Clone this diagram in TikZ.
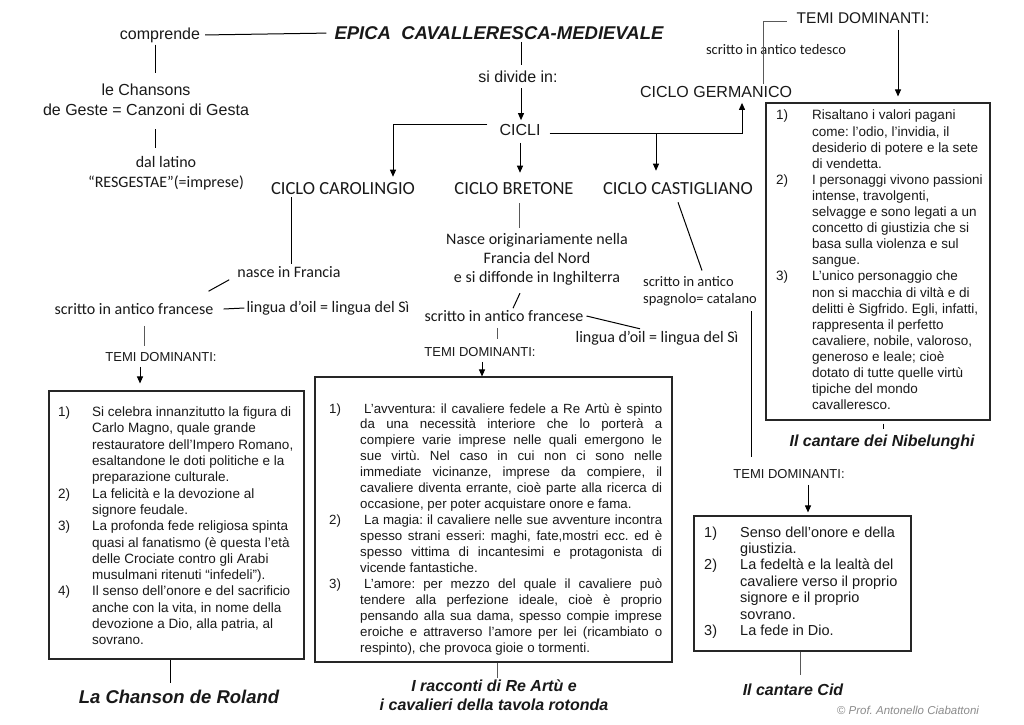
\documentclass[tikz,border=0pt]{standalone}
\usepackage{fontspec}
\setmainfont{Liberation Sans}
\newfontfamily\calib{Carlito}
\usetikzlibrary{arrows.meta}
\begin{document}
\begin{tikzpicture}[x=1pt,y=-1pt,
  ln/.style={line width=1pt, draw=black},
  lng/.style={line width=0.9pt, draw=black!65},
  arr/.style={ln, -{Triangle[length=7pt,width=6pt]}},
  lbl/.style={inner sep=2pt, align=center, text=black!90},
  ar16/.style={lbl, font=\fontsize{16}{20}\selectfont},
  ar155/.style={lbl, font=\fontsize{15.5}{19}\selectfont},
  ar13/.style={lbl, font=\fontsize{13}{16}\selectfont},
  ca16/.style={lbl, font=\calib\fontsize{16}{20}\selectfont},
  ca185/.style={lbl, font=\calib\fontsize{18.5}{22}\selectfont},
  ca145/.style={lbl, font=\calib\fontsize{14.5}{17}\selectfont},
  bi16/.style={lbl, font=\bfseries\itshape\fontsize{16}{19}\selectfont},
  bi185/.style={lbl, font=\bfseries\itshape\fontsize{18.5}{22}\selectfont},
  tit/.style={lbl, font=\bfseries\itshape\fontsize{18.5}{22}\selectfont},
  cpy/.style={lbl, text=black!45, font=\itshape\fontsize{11.5}{14}\selectfont},
  box/.style={draw=black!85, line width=1.1pt, inner sep=0, fill=none},
  boxtext/.style={anchor=north west, inner sep=0, text=black!90}
]
\frenchspacing
\fill[white] (0,0) rectangle (1024,724);
\useasboundingbox (0,0) rectangle (1024,724);

% ---------- labels ----------
\node[tit] (title) at (499,33) {EPICA\ \ CAVALLERESCA-MEDIEVALE};
\node[ar16] (comp) at (160,35) {comprende};
\node[ar16] (chans) at (146,100) {le Chansons\\de Geste = Canzoni di Gesta};
\node[ca16] (lat) at (166,173) {dal latino\\“RESGESTAE”(=imprese)};
\node[ar16] (sidiv) at (518,77) {si divide in:};
\node[ar16] (cicli) at (520,130) {CICLI};
\node[ca185] (carol) at (343,189) {CICLO CAROLINGIO};
\node[ca185] (bret) at (514,189) {CICLO BRETONE};
\node[ca185] (cast) at (678,189) {CICLO CASTIGLIANO};
\node[ar16] (germ) at (716,92) {CICLO GERMANICO};
\node[ca145] (ted) at (776,50) {scritto in antico tedesco};
\node[ar155] (temiG) at (863,18) {TEMI DOMINANTI:};
\node[bi16] (nib) at (882,442) {Il cantare dei Nibelunghi};
\node[ca16] (nfr) at (289,272) {nasce in Francia};
\node[ca16] (scrC) at (134,309) {scritto in antico francese};
\node[ca16] (lingC) at (328,308) {lingua d’oil = lingua del Sì};
\node[ar13] (temiC) at (161,357) {TEMI DOMINANTI:};
\node[bi185] (rol) at (179,697) {La Chanson de Roland};
\node[lbl, font=\calib\fontsize{16}{19}\selectfont] (nasB) at (537,259) {Nasce originariamente nella\\Francia del Nord\\e si diffonde in Inghilterra};
\node[ca16] (scrB) at (504,316) {scritto in antico francese};
\node[ca16] (lingB) at (657,338) {lingua d’oil = lingua del Sì};
\node[ar13] (temiB) at (480,352) {TEMI DOMINANTI:};
\node[bi16] (artu) at (494,695.5) {I racconti di Re Artù e\\i cavalieri della tavola rotonda};
\node[ca145, align=left] (scrS) at (700,291.5) {scritto in antico\\spagnolo= catalano};
\node[ar13] (temiS) at (789,474) {TEMI DOMINANTI:};
\node[bi16] (cid) at (793,690) {Il cantare Cid};
\node[cpy] (copy) at (908,710) {© Prof. Antonello Ciabattoni};

% ---------- boxes ----------
\node[box, minimum width=224pt, minimum height=317pt] (boxG) at (878,261.5) {};
\node[box, minimum width=255pt, minimum height=268pt] (boxC) at (176.5,525) {};
\node[box, minimum width=357pt, minimum height=285pt] (boxB) at (493.5,519.5) {};
\node[box, minimum width=217pt, minimum height=135pt] (boxS) at (802.5,583.5) {};

\node[boxtext, font=\frenchspacing\fontsize{13.5}{16.3}\selectfont] (tC) at (58,405) {%
\begin{tabular}{@{}p{34pt}@{}l@{}}
1) & Si celebra innanzitutto la figura di\\
   & Carlo Magno, quale grande\\
   & restauratore dell’Impero Romano,\\
   & esaltandone le doti politiche e la\\
   & preparazione culturale.\\
2) & La felicità e la devozione al\\
   & signore feudale.\\
3) & La profonda fede religiosa spinta\\
   & quasi al fanatismo (è questa l’età\\
   & delle Crociate contro gli Arabi\\
   & musulmani ritenuti “infedeli”).\\
4) & Il senso dell’onore e del sacrificio\\
   & anche con la vita, in nome della\\
   & devozione a Dio, alla patria, al\\
   & sovrano.
\end{tabular}};

\node[boxtext, font=\frenchspacing\fontsize{13.3}{15.93}\selectfont] (tB) at (329,401.7) {%
\begin{tabular}{@{}p{31pt}@{}l@{}}
1) & \hspace*{4pt}\makebox[298pt][s]{L’avventura: il cavaliere fedele a Re Artù è spinto}\\
   & \makebox[302pt][s]{da una necessità interiore che lo porterà a}\\
   & \makebox[302pt][s]{compiere varie imprese nelle quali emergono le}\\
   & \makebox[302pt][s]{sue virtù. Nel caso in cui non ci sono nelle}\\
   & \makebox[302pt][s]{immediate vicinanze, imprese da compiere, il}\\
   & \makebox[302pt][s]{cavaliere diventa errante, cioè parte alla ricerca di}\\
   & occasione, per poter acquistare onore e fama.\\
2) & \hspace*{4pt}\makebox[298pt][s]{La magia: il cavaliere nelle sue avventure incontra}\\
   & \makebox[302pt][s]{spesso strani esseri: maghi, fate,mostri ecc. ed è}\\
   & \makebox[302pt][s]{spesso vittima di incantesimi e protagonista di}\\
   & vicende fantastiche.\\
3) & \hspace*{4pt}\makebox[298pt][s]{L’amore: per mezzo del quale il cavaliere può}\\
   & \makebox[302pt][s]{tendere alla perfezione ideale, cioè è proprio}\\
   & \makebox[302pt][s]{pensando alla sua dama, spesso compie imprese}\\
   & \makebox[302pt][s]{eroiche e attraverso l’amore per lei (ricambiato o}\\
   & respinto), che provoca gioie o tormenti.
\end{tabular}};

\node[boxtext, font=\frenchspacing\fontsize{13.5}{16.1}\selectfont] (tG) at (776,108.5) {%
\begin{tabular}{@{}p{36pt}@{}l@{}}
1) & Risaltano i valori pagani\\
   & come: l’odio, l’invidia, il\\
   & desiderio di potere e la sete\\
   & di vendetta.\\
2) & I personaggi vivono passioni\\
   & intense, travolgenti,\\
   & selvagge e sono legati a un\\
   & concetto di giustizia che si\\
   & basa sulla violenza e sul\\
   & sangue.\\
3) & L’unico personaggio che\\
   & non si macchia di viltà e di\\
   & delitti è Sigfrido. Egli, infatti,\\
   & rappresenta il perfetto\\
   & cavaliere, nobile, valoroso,\\
   & generoso e leale; cioè\\
   & dotato di tutte quelle virtù\\
   & tipiche del mondo\\
   & cavalleresco.
\end{tabular}};

\node[boxtext, font=\frenchspacing\fontsize{14.5}{16.4}\selectfont] (tS) at (704,525.5) {%
\begin{tabular}{@{}p{36pt}@{}l@{}}
1) & Senso dell’onore e della\\
   & giustizia.\\
2) & La fedeltà e la lealtà del\\
   & cavaliere verso il proprio\\
   & signore e il proprio\\
   & sovrano.\\
3) & La fede in Dio.
\end{tabular}};

% ---------- connectors ----------
\draw[ln, shorten <=3pt, shorten >=6pt] (comp.east) -- (title.west);
\coordinate (a1) at ([xshift=-5pt]comp.south);
\draw[ln, shorten >=9pt] (a1) -- (a1 |- chans.north);
\coordinate (a2) at (a1 |- chans.south);
\draw[ln, shorten <=11pt, shorten >=6pt] (a2) -- (a2 |- lat.north);

\coordinate (a3) at ([xshift=22pt]title.south);
\draw[ln, shorten >=4pt] (a3) -- (a3 |- sidiv.north);
\coordinate (a4) at ([xshift=3pt]sidiv.south);
\draw[arr, shorten <=3pt, shorten >=2pt] (a4) -- (a4 |- cicli.north);

\coordinate (jl) at ([xshift=-10pt,yshift=6pt]cicli.west);
\coordinate (carin) at ([xshift=50pt]carol.north);
\draw[arr, shorten >=4pt] (jl) -| (carin);
\draw[arr, shorten <=5pt, shorten >=8pt] (cicli.south) -- (cicli.south |- bret.north);
\coordinate (jr) at ([xshift=7pt,yshift=-3pt]cicli.east);
\coordinate (germin) at ([xshift=26pt]germ.south);
\draw[arr, shorten >=3pt] (jr) -| (germin);
\coordinate (castin) at ([xshift=-22pt]cast.north);
\draw[arr, shorten >=10pt] (castin |- jr) -- (castin);

\coordinate (gt) at ([xshift=47pt]germ.north);
\coordinate (tg) at ([yshift=-3pt]temiG.west);
\draw[lng, shorten >=8pt] (gt) |- (tg);
\coordinate (tgs) at ([xshift=35pt]temiG.south);
\draw[arr, shorten <=4pt, shorten >=6pt] (tgs) -- (tgs |- boxG.north);
\coordinate (bgs) at ([xshift=5pt]boxG.south);
\draw[ln, shorten <=3pt, shorten >=3pt] (bgs) -- (bgs |- nib.north);

\coordinate (cn) at ([xshift=-52pt]carol.south);
\draw[ln] (cn) -- (cn |- nfr.north);
\draw[ln] ([xshift=-6pt]nfr.south west) -- ([xshift=-7pt,yshift=10pt]scrC.north east);
\draw[ln] ([xshift=8pt]scrC.east) -- (lingC.west);
\coordinate (st) at ([xshift=10pt]scrC.south);
\draw[lng, shorten <=9pt, shorten >=4pt] (st) -- (st |- temiC.north);
\coordinate (tcs) at ([xshift=-21pt]temiC.south);
\draw[arr, shorten <=3pt, shorten >=7pt] (tcs) -- (tcs |- boxC.north);
\coordinate (bcs) at ([xshift=-6.5pt]boxC.south);
\draw[ln, shorten >=5pt] (bcs) -- (bcs |- rol.north);

\coordinate (bn) at ([xshift=5pt]bret.south);
\draw[lng, shorten <=6pt, shorten >=3pt] (bn) -- (bn |- nasB.north);
\draw[ln] ([xshift=-17pt,yshift=-6pt]nasB.south) -- ([xshift=9pt]scrB.north);
\draw[ln] ([xshift=1pt]scrB.east) -- ([xshift=-17pt]lingB.north);
\coordinate (sbt) at ([xshift=-7pt]scrB.south);
\draw[lng, shorten <=4pt, shorten >=6pt] (sbt) -- (sbt |- temiB.north);
\coordinate (tbs) at ([xshift=2pt]temiB.south);
\draw[arr, shorten <=3pt] (tbs) -- (tbs |- boxB.north);
\coordinate (bbs) at ([xshift=3.5pt]boxB.south);
\draw[lng] (bbs) -- (bbs |- artu.north);

\draw[ln] ([yshift=-5pt]cast.south) -- ([xshift=2pt,yshift=4pt]scrS.north);
\coordinate (sst) at ([xshift=51pt]scrS.south);
\draw[ln, shorten <=3pt, shorten >=10pt] (sst) -- (sst |- temiS.north);
\coordinate (tss) at ([xshift=19pt]temiS.south);
\draw[arr, shorten <=4pt, shorten >=3pt] (tss) -- (tss |- boxS.north);
\coordinate (bss) at ([xshift=-2.5pt]boxS.south);
\draw[lng, shorten >=7pt] (bss) -- (bss |- cid.north);
\end{tikzpicture}
\end{document}
